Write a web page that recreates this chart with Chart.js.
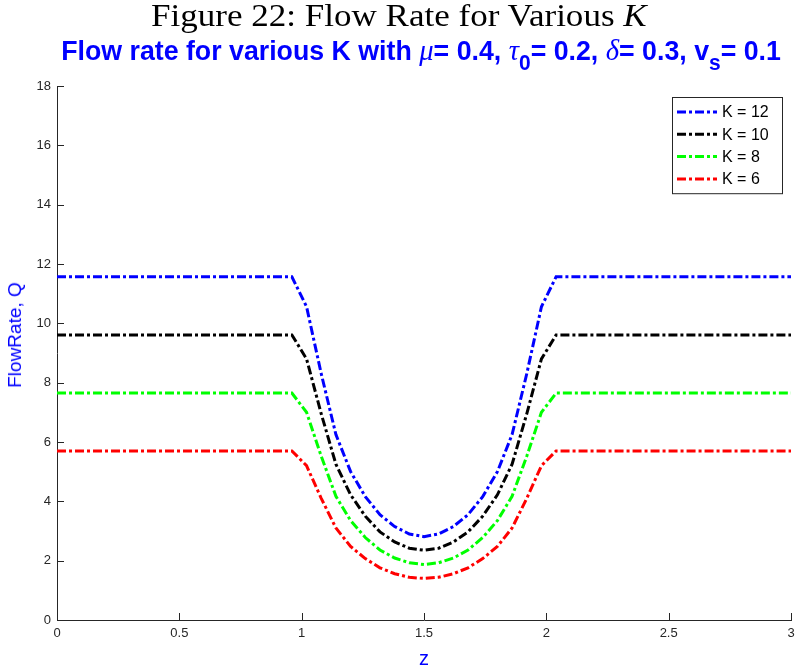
<!DOCTYPE html>
<html>
<head>
<meta charset="utf-8">
<script src="https://cdn.jsdelivr.net/npm/chart.js@4.4.1/dist/chart.umd.min.js"></script>
<style>
  html, body { margin: 0; padding: 0; background: #fff; }
  #wrap { position: relative; width: 798px; height: 671px; }
  #flowChart { position: absolute; left: 0; top: 0; }
  #fig {
    position: absolute; top: -2px; left: 0; width: 798px; text-align: center;
    font-family: "Liberation Serif", "Times New Roman", serif; font-size: 31px; color: #000;
    transform: scaleX(1.13); transform-origin: 400px 0;
  }
  #sub {
    position: absolute; top: 33px; left: 22px; width: 798px; text-align: center;
    font-family: "Liberation Sans", Arial, sans-serif;
    font-weight: bold; font-size: 28px; color: #0000ff; white-space: nowrap;
    transform: scaleX(0.955); transform-origin: 400px 0;
  }
  .gk { font-family: "Liberation Serif", serif; font-style: italic; font-weight: normal; font-size: 30px; }
  #sub sub { font-size: 22px; vertical-align: -0.45em; line-height: 0; }
  #ylab {
    position: absolute; left: 15px; top: 335px; white-space: nowrap;
    font-family: "Liberation Sans", Arial, sans-serif; font-size: 19px; color: #0000ff;
    transform: translate(-50%, -50%) rotate(-90deg);
  }
</style>
</head>
<body>
<div id="wrap">
  <canvas id="flowChart" width="798" height="671"></canvas>
  <div id="fig">Figure 22: Flow Rate for Various <i>K</i></div>
  <div id="sub">Flow rate for various K with <span class="gk">μ</span>= 0.4, <span class="gk">τ</span><sub>0</sub>= 0.2, <span class="gk">δ</span>= 0.3, v<sub>s</sub>= 0.1</div>
  <div id="ylab">FlowRate, Q</div>
</div>
<script>
// Axial position along the channel
const zValues = [
  0, 0.06, 0.12, 0.18, 0.24, 0.3, 0.36, 0.42, 0.48, 0.54, 0.6, 0.66, 0.72, 0.78, 0.84, 0.9, 0.96,
  1.02, 1.08, 1.14, 1.2, 1.26, 1.32, 1.38, 1.44, 1.5, 1.56, 1.62, 1.68, 1.74, 1.8, 1.86, 1.92, 1.98,
  2.04, 2.1, 2.16, 2.22, 2.28, 2.34, 2.4, 2.46, 2.52, 2.58, 2.64, 2.7, 2.76, 2.82, 2.88, 2.94, 3.0
];

// Flow rate Q for each K
const flowK12 = [
  11.57, 11.57, 11.57, 11.57, 11.57, 11.57, 11.57, 11.57, 11.57, 11.57, 11.57, 11.57, 11.57, 11.57, 11.57, 11.57, 11.57,
  10.56, 8.30, 6.25, 5.00, 4.16, 3.55, 3.15, 2.90, 2.81, 2.90, 3.15, 3.55, 4.16, 5.00, 6.25, 8.30, 10.56,
  11.57, 11.57, 11.57, 11.57, 11.57, 11.57, 11.57, 11.57, 11.57, 11.57, 11.57, 11.57, 11.57, 11.57, 11.57, 11.57, 11.57
];
const flowK10 = [
  9.61, 9.61, 9.61, 9.61, 9.61, 9.61, 9.61, 9.61, 9.61, 9.61, 9.61, 9.61, 9.61, 9.61, 9.61, 9.61, 9.61,
  8.80, 6.95, 5.25, 4.22, 3.50, 2.97, 2.63, 2.42, 2.35, 2.42, 2.63, 2.97, 3.50, 4.22, 5.25, 6.95, 8.80,
  9.61, 9.61, 9.61, 9.61, 9.61, 9.61, 9.61, 9.61, 9.61, 9.61, 9.61, 9.61, 9.61, 9.61, 9.61, 9.61, 9.61
];
const flowK8 = [
  7.65, 7.65, 7.65, 7.65, 7.65, 7.65, 7.65, 7.65, 7.65, 7.65, 7.65, 7.65, 7.65, 7.65, 7.65, 7.65, 7.65,
  7.00, 5.52, 4.17, 3.35, 2.78, 2.36, 2.09, 1.93, 1.87, 1.93, 2.09, 2.36, 2.78, 3.35, 4.17, 5.52, 7.00,
  7.65, 7.65, 7.65, 7.65, 7.65, 7.65, 7.65, 7.65, 7.65, 7.65, 7.65, 7.65, 7.65, 7.65, 7.65, 7.65, 7.65
];
const flowK6 = [
  5.70, 5.70, 5.70, 5.70, 5.70, 5.70, 5.70, 5.70, 5.70, 5.70, 5.70, 5.70, 5.70, 5.70, 5.70, 5.70, 5.70,
  5.20, 4.10, 3.10, 2.48, 2.07, 1.76, 1.56, 1.44, 1.40, 1.44, 1.56, 1.76, 2.07, 2.48, 3.10, 4.10, 5.20,
  5.70, 5.70, 5.70, 5.70, 5.70, 5.70, 5.70, 5.70, 5.70, 5.70, 5.70, 5.70, 5.70, 5.70, 5.70, 5.70, 5.70
];

const seriesLabels = ['K = 12', 'K = 10', 'K = 8', 'K = 6'];
const seriesColors = ['#0000ff', '#000000', '#00ff00', '#ff0000'];
const seriesData = [flowK12, flowK10, flowK8, flowK6];

const dashDot = [9, 3, 3, 3];
const axisColor = '#262626';

function toPoints(values) {
  return values.map((q, i) => ({ x: zValues[i], y: q }));
}

// Tick marks pointing into the plot area on both axes
const innerTicks = {
  id: 'innerTicks',
  afterDatasetsDraw(chart) {
    const { ctx, chartArea, scales } = chart;
    ctx.save();
    ctx.strokeStyle = axisColor;
    ctx.lineWidth = 1;
    ctx.beginPath();
    scales.y.ticks.forEach(t => {
      const y = Math.round(scales.y.getPixelForValue(t.value)) + 0.5;
      ctx.moveTo(chartArea.left, y);
      ctx.lineTo(chartArea.left + 7, y);
    });
    scales.x.ticks.forEach(t => {
      const x = Math.round(scales.x.getPixelForValue(t.value)) + 0.5;
      ctx.moveTo(x, chartArea.bottom);
      ctx.lineTo(x, chartArea.bottom - 7);
    });
    ctx.stroke();
    ctx.restore();
  }
};

// Boxed legend in the upper right of the plot
const boxLegend = {
  id: 'boxLegend',
  afterDraw(chart) {
    const { ctx, chartArea } = chart;
    const right = chartArea.right - 9;
    const left = right - 110;
    const top = chartArea.top + 11;
    const rowH = 22.3;
    const height = rowH * chart.data.datasets.length + 7;
    ctx.save();
    ctx.fillStyle = '#fff';
    ctx.fillRect(left, top, right - left, height);
    ctx.strokeStyle = axisColor;
    ctx.lineWidth = 1;
    ctx.strokeRect(Math.round(left) + 0.5, Math.round(top) + 0.5, right - left, height);
    ctx.font = '16px "Liberation Sans", Arial, sans-serif';
    ctx.textBaseline = 'middle';
    chart.data.datasets.forEach((ds, i) => {
      const y = top + 15 + i * rowH;
      ctx.strokeStyle = ds.borderColor;
      ctx.lineWidth = ds.borderWidth;
      ctx.setLineDash(ds.borderDash);
      ctx.beginPath();
      ctx.moveTo(left + 5, y);
      ctx.lineTo(left + 45, y);
      ctx.stroke();
      ctx.setLineDash([]);
      ctx.fillStyle = '#000';
      ctx.fillText(ds.label, left + 50, y + 1);
    });
    ctx.restore();
  }
};

const ctx = document.getElementById('flowChart').getContext('2d');
const flowChart = new Chart(ctx, {
  type: 'line',
  data: {
    datasets: seriesData.map((values, i) => ({
      label: seriesLabels[i],
      data: toPoints(values),
      borderColor: seriesColors[i],
      backgroundColor: seriesColors[i],
      borderWidth: 3,
      borderDash: dashDot,
      pointRadius: 0,
      tension: 0,
      fill: false
    }))
  },
  options: {
    responsive: false,
    animation: false,
    layout: { padding: { top: 86, left: 0, right: 7, bottom: 0 } },
    plugins: {
      legend: { display: false },
      title: { display: false },
      tooltip: { enabled: false }
    },
    scales: {
      x: {
        type: 'linear',
        min: 0,
        max: 3,
        ticks: {
          stepSize: 0.5,
          color: axisColor,
          padding: 6,
          maxRotation: 0,
          callback: v => String(v),
          font: { family: '"Liberation Sans", Arial, sans-serif', size: 13 }
        },
        grid: { display: false, drawTicks: false },
        border: { display: true, color: axisColor, width: 1 },
        title: {
          display: true,
          text: 'z',
          color: '#0000ff',
          padding: { top: 4, bottom: 0 },
          font: { family: '"Liberation Sans", Arial, sans-serif', size: 20 }
        },
        afterFit(scale) {
          scale.height = 51;
          scale.paddingLeft = 0;
          scale.paddingRight = 0;
        }
      },
      y: {
        min: 0,
        max: 18,
        ticks: {
          stepSize: 2,
          color: axisColor,
          padding: 6,
          font: { family: '"Liberation Sans", Arial, sans-serif', size: 13 }
        },
        grid: { display: false, drawTicks: false },
        border: { display: true, color: axisColor, width: 1 },
        afterFit(scale) { scale.width = 57; }
      }
    }
  },
  plugins: [innerTicks, boxLegend]
});
</script>
</body>
</html>
